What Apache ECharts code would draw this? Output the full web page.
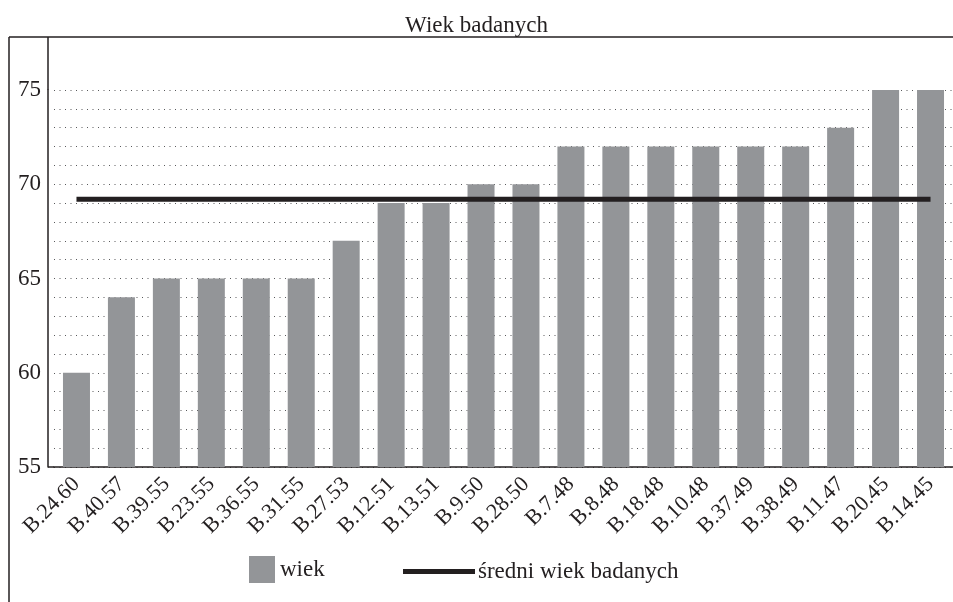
<!DOCTYPE html>
<html>
<head>
<meta charset="utf-8">
<script src="https://cdn.jsdelivr.net/npm/echarts@6/dist/echarts.min.js"></script>
<style>
  html, body { margin: 0; padding: 0; background: #fff; }
  #chart { width: 953px; height: 602px; }
</style>
</head>
<body>
<div id="chart"></div>
<script>
// dane z wykresu
var categories = ['B.24.60', 'B.40.57', 'B.39.55', 'B.23.55', 'B.36.55', 'B.31.55', 'B.27.53',
  'B.12.51', 'B.13.51', 'B.9.50', 'B.28.50', 'B.7.48', 'B.8.48', 'B.18.48', 'B.10.48',
  'B.37.49', 'B.38.49', 'B.11.47', 'B.20.45', 'B.14.45']
var wiek = [60, 64, 65, 65, 65, 65, 67, 69, 69, 70, 70, 72, 72, 72, 72, 72, 72, 73, 75, 75]
var sredniWiek = 69.2
var yTicks = [55, 60, 65, 70, 75]

var font = 'Liberation Serif'
var ink = '#231f20'
var barGray = '#939598'

var myChart = echarts.init(document.getElementById('chart'))

var option = {
  animation: false,
  title: {
    text: 'Wiek badanych',
    left: 'center',
    top: 9,
    textStyle: { fontFamily: font, fontSize: 23, fontWeight: 'normal', color: ink }
  },
  grid: { left: 54, right: -1, top: 90, bottom: 135 },
  legend: [
    {
      data: ['wiek'],
      left: 249, top: 556,
      padding: 0,
      itemWidth: 26, itemHeight: 27,
      icon: 'rect',
      textStyle: { fontFamily: font, fontSize: 23, color: ink, padding: [3, 0, 0, 0] }
    },
    {
      data: [{ name: 'średni wiek badanych', icon: 'rect' }],
      left: 403, top: 560,
      padding: 0,
      itemWidth: 72, itemHeight: 5,
      textStyle: { fontFamily: font, fontSize: 23, color: ink, padding: [0, 0, 0, -2] }
    }
  ],
  xAxis: {
    type: 'category',
    data: categories,
    axisLine: { lineStyle: { color: ink, width: 1.5 } },
    axisTick: { show: false },
    axisLabel: {
      interval: 0,
      rotate: 45,
      margin: 14,
      fontFamily: font,
      fontSize: 22,
      color: ink
    }
  },
  yAxis: {
    type: 'value',
    min: 55,
    max: 75,
    interval: 1,
    offset: 6,
    axisLine: { show: true, lineStyle: { color: ink, width: 1.5 } },
    axisTick: { show: false },
    axisLabel: {
      margin: 7,
      fontFamily: font,
      fontSize: 23,
      color: ink,
      formatter: function (v) {
        return yTicks.indexOf(v) >= 0 ? String(v) : ''
      }
    },
    splitLine: {
      show: true,
      lineStyle: { color: '#58595b', width: 1, type: [1, 4.5] }
    }
  },
  series: [
    {
      name: 'wiek',
      type: 'bar',
      barWidth: 27,
      itemStyle: { color: barGray },
      data: wiek
    },
    {
      name: 'średni wiek badanych',
      type: 'line',
      symbol: 'none',
      lineStyle: { color: ink, width: 5 },
      itemStyle: { color: ink },
      data: categories.map(function () { return sredniWiek })
    }
  ],
  graphic: [
    // ramka wokół wykresu
    { type: 'line', shape: { x1: 9, y1: 37, x2: 953, y2: 37 }, style: { stroke: ink, lineWidth: 1.5 } },
    { type: 'line', shape: { x1: 9, y1: 37, x2: 9, y2: 602 }, style: { stroke: ink, lineWidth: 1.5 } },
    // przedłużenie osi
    { type: 'line', shape: { x1: 48, y1: 37, x2: 48, y2: 90 }, style: { stroke: ink, lineWidth: 1.5 } },
    { type: 'line', shape: { x1: 48, y1: 467, x2: 54, y2: 467 }, style: { stroke: ink, lineWidth: 1.5 } }
  ]
}

myChart.setOption(option)
window.addEventListener('resize', function () {
  myChart.resize()
})
</script>
</body>
</html>
